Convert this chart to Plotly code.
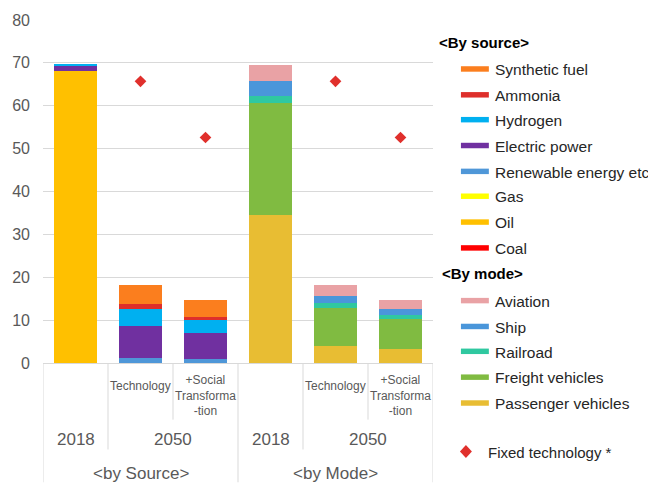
import plotly.graph_objects as go

# ---- data -------------------------------------------------------------
source_cats = ["Source 2018", "Source 2050 Technology", "Source 2050 Social"]
mode_cats = ["Mode 2018", "Mode 2050 Technology", "Mode 2050 Social"]

# energy consumption by source (stacked bottom -> top)
coal = [0.0, 0.0, 0.0]
oil = [68.1, 0.0, 0.0]
gas = [0.0, 0.0, 0.0]
renewable = [0.0, 1.1, 0.9]
electric = [1.3, 7.6, 6.0]
hydrogen = [0.3, 3.9, 3.1]
ammonia = [0.0, 1.2, 0.7]
synthetic = [0.0, 4.3, 4.0]

# energy consumption by mode (stacked bottom -> top)
passenger = [34.6, 4.0, 3.25]
freight = [26.1, 8.8, 7.0]
railroad = [1.5, 1.1, 1.0]
ship = [3.5, 1.8, 1.4]
aviation = [3.7, 2.4, 2.1]

# fixed-technology case for 2050
fixed_source = [65.7, 52.6]
fixed_mode = [65.7, 52.6]

sub_labels = ["", "Technology", "+Social<br>Transforma<br>-tion"]
year_labels = ["2018", "2050"]
group_labels = ["&lt;by Source&gt;", "&lt;by Mode&gt;"]
y_ticks = [0, 10, 20, 30, 40, 50, 60, 70, 80]

# ---- styles -----------------------------------------------------------
source_series = [
    ("Coal", coal, "#ff0000"),
    ("Oil", oil, "#ffc000"),
    ("Gas", gas, "#ffff00"),
    ("Renewable energy etc", renewable, "#4f97d8"),
    ("Electric power", electric, "#7030a0"),
    ("Hydrogen", hydrogen, "#00b0f0"),
    ("Ammonia", ammonia, "#de2f2b"),
    ("Synthetic fuel", synthetic, "#fb7e1e"),
]
mode_series = [
    ("Passenger vehicles", passenger, "#e8bd33"),
    ("Freight vehicles", freight, "#80bb41"),
    ("Railroad", railroad, "#2fc8a0"),
    ("Ship", ship, "#4a96da"),
    ("Aviation", aviation, "#e9a2a5"),
]
DIAMOND = "#e0302c"
GRID = "#d9d9d9"
TXT = "#595959"
FONT = "Liberation Sans, Arial, sans-serif"

# plot area in pixels
W, H = 648, 483
L, R, T, B = 42, 433, 18, 363


def px(x):
    return (x - L) / (R - L)


def py(y):
    return (B - y) / (B - T)


fig = go.Figure()

for name, vals, col in source_series:
    fig.add_trace(go.Bar(x=source_cats, y=vals, name=name, marker_color=col,
                         marker_line_width=0, showlegend=False))
for name, vals, col in mode_series:
    fig.add_trace(go.Bar(x=mode_cats, y=vals, name=name, marker_color=col,
                         marker_line_width=0, showlegend=False))

fig.add_trace(go.Scatter(
    x=source_cats[1:] + mode_cats[1:], y=fixed_source + fixed_mode,
    mode="markers", name="Fixed technology *",
    marker=dict(symbol="diamond", size=9, color=DIAMOND),
    showlegend=False))

annotations = []
shapes = []
all_cats = source_cats + mode_cats

# category labels under the axis
for i, c in enumerate(all_cats):
    lab = sub_labels[i % 3]
    if lab:
        annotations.append(dict(
            x=c, xref="x", y=py(386 if i % 3 == 1 else 396), yref="paper",
            text=lab, showarrow=False, font=dict(size=12, color=TXT),
            xanchor="center", yanchor="middle"))
for g in range(2):
    annotations.append(dict(x=3 * g, xref="x", y=py(440), yref="paper",
                            text=year_labels[0], showarrow=False,
                            xanchor="center", yanchor="middle",
                            font=dict(size=17, color=TXT)))
    annotations.append(dict(x=3 * g + 1.5, xref="x", y=py(440), yref="paper",
                            text=year_labels[1], showarrow=False,
                            xanchor="center", yanchor="middle",
                            font=dict(size=17, color=TXT)))
    annotations.append(dict(x=3 * g + 1, xref="x", y=py(474), yref="paper",
                            text=group_labels[g], showarrow=False,
                            xanchor="center", yanchor="middle",
                            font=dict(size=17, color=TXT)))

# separator lines below the axis
sep_bottom = [483, 450, 420, 483, 450, 420, 483]
for k, bottom in enumerate(sep_bottom):
    shapes.append(dict(type="line", xref="x", yref="paper",
                       x0=k - 0.5, x1=k - 0.5, y0=0, y1=py(bottom),
                       line=dict(color=GRID, width=1)))


# legend, drawn by hand
def header(text, x, y):
    annotations.append(dict(x=px(x), xref="paper", y=py(y), yref="paper",
                            text="<b>" + text + "</b>", showarrow=False,
                            xanchor="left", yanchor="middle",
                            font=dict(size=15, color="#000000")))


def item(text, color, y):
    shapes.append(dict(type="rect", xref="paper", yref="paper",
                       x0=px(461), x1=px(489), y0=py(y - 2.5), y1=py(y + 3),
                       fillcolor=color, line=dict(width=0)))
    annotations.append(dict(x=px(493), xref="paper", y=py(y + 1), yref="paper",
                            text=text, showarrow=False, xanchor="left",
                            yanchor="middle",
                            font=dict(size=15.5, color="#262626")))


header("&lt;By source&gt;", 437, 41)
src_y = [67, 93, 118, 144, 170, 195, 221, 247]
for (name, _, col), y in zip(reversed(source_series), src_y):
    item(name, col, y)
header("&lt;By mode&gt;", 440, 273)
mode_y = [300, 326, 351, 377, 403]
for (name, _, col), y in zip(reversed(mode_series), mode_y):
    item(name, col, y)

# legend diamond for the fixed-technology markers
cx, cy, hw, hh = 466, 452, 6, 6.5
shapes.append(dict(
    type="path", xref="paper", yref="paper",
    path=(f"M {px(cx)},{py(cy - hh)} L {px(cx + hw)},{py(cy)} "
          f"L {px(cx)},{py(cy + hh)} L {px(cx - hw)},{py(cy)} Z"),
    fillcolor=DIAMOND, line=dict(width=0)))
annotations.append(dict(x=px(486), xref="paper", y=py(453), yref="paper",
                        text="Fixed technology *", showarrow=False,
                        xanchor="left", yanchor="middle",
                        font=dict(size=15, color="#262626")))

fig.update_layout(
    width=W, height=H,
    margin=dict(l=L, r=W - R, t=T, b=H - B, pad=0),
    paper_bgcolor="white", plot_bgcolor="white",
    font=dict(family=FONT, color=TXT),
    barmode="stack", bargap=0.34,
    showlegend=False,
    xaxis=dict(categoryorder="array", categoryarray=all_cats,
               range=[-0.5, 5.5], showticklabels=False, showgrid=False,
               showline=True, linecolor=GRID, linewidth=1, ticks="",
               zeroline=False, fixedrange=True),
    yaxis=dict(range=[0, 80], tickvals=y_ticks, showgrid=True,
               gridcolor=GRID, gridwidth=1, zeroline=False, showline=False,
               ticks="", ticklabelstandoff=12,
               tickfont=dict(size=16, color=TXT)),
    annotations=annotations,
    shapes=shapes,
)

fig.write_html("out.html")
